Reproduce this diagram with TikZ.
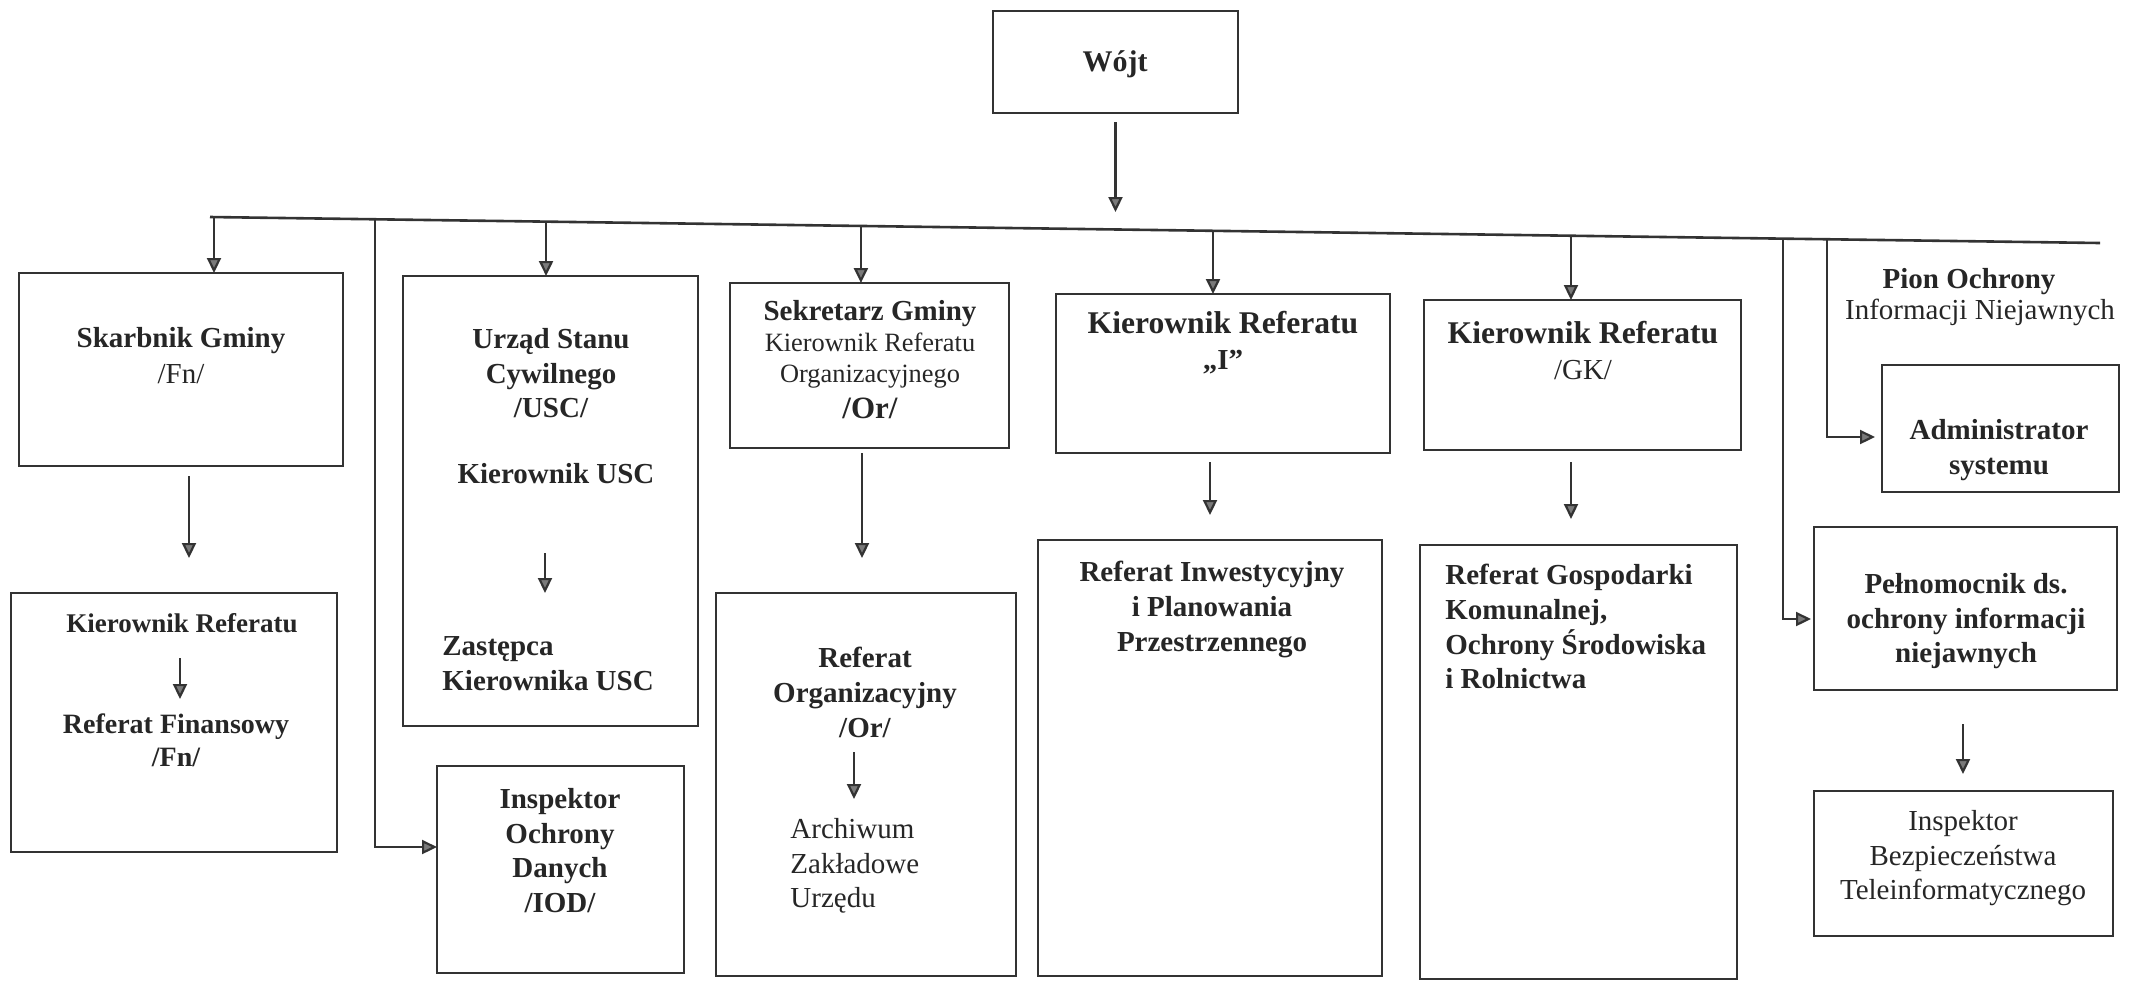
\documentclass[tikz,border=0pt]{standalone}
\usepackage{fontspec}
\setmainfont{Liberation Serif}
\usetikzlibrary{arrows.meta,calc}
\definecolor{ink}{HTML}{262626}
\definecolor{linec}{HTML}{333333}
\definecolor{arrowc}{HTML}{7A7A7A}
\begin{document}
\begin{tikzpicture}[x=0.5pt,y=-0.5pt,
  box/.style={draw=linec, line width=1.3pt, inner sep=0pt, outer sep=0pt, anchor=north west},
  lnk/.style={draw=linec, line width=1.1pt},
  arr/.style={lnk, -{Triangle[length=7.5pt,width=7pt,fill=arrowc]}},
  txtb/.style={inner sep=0pt, text=ink, font=\fontsize{14.5}{17.3}\selectfont\bfseries, align=center},
  txtr/.style={inner sep=0pt, text=ink, font=\fontsize{14.5}{17.3}\selectfont, align=center},
  bigb/.style={font=\fontsize{15.8}{19}\selectfont\bfseries},
  smallr/.style={font=\fontsize{13.2}{16}\selectfont},
]
\useasboundingbox (0,0) rectangle (2141,982);

% boxes
\node[box, minimum width=122.5pt, minimum height=51pt]   (W) at (993,11) {};
\node[box, minimum width=162pt,   minimum height=96.5pt] (S) at (19,273) {};
\node[box, minimum width=163pt,   minimum height=129.5pt](F) at (11,593) {};
\node[box, minimum width=147.5pt, minimum height=225pt]  (U) at (403,276) {};
\node[box, minimum width=123.5pt, minimum height=103.5pt](D) at (437,766) {};
\node[box, minimum width=139.5pt, minimum height=82.5pt] (K) at (730,283) {};
\node[box, minimum width=150pt,   minimum height=191.5pt](O) at (716,593) {};
\node[box, minimum width=167pt,   minimum height=79.5pt] (I) at (1056,294) {};
\node[box, minimum width=172pt,   minimum height=218pt]  (P) at (1038,540) {};
\node[box, minimum width=158.5pt, minimum height=75pt]   (G) at (1424,300) {};
\node[box, minimum width=158.5pt, minimum height=217pt]  (R) at (1420,545) {};
\node[box, minimum width=118.5pt, minimum height=63.5pt] (A) at (1882,365) {};
\node[box, minimum width=151.5pt, minimum height=81.5pt] (N) at (1814,527) {};
\node[box, minimum width=149.5pt, minimum height=72.5pt] (T) at (1814,791) {};

% texts
\node[txtb, font=\fontsize{15}{18}\selectfont\bfseries, anchor=base] (tW) at (1115,71) {Wójt};
\node[txtb, anchor=base] (tS1) at (181,347) {Skarbnik Gminy};
\node[txtr, anchor=base] (tS2) at (181,383) {/Fn/};
\node[txtb, font=\fontsize{13.5}{16}\selectfont\bfseries, anchor=base] (tF1) at (182,632) {Kierownik Referatu};
\node[txtb, font=\fontsize{14}{16.5}\selectfont\bfseries, anchor=north] (tF2) at (176,713) {Referat Finansowy\\/Fn/};
\node[txtb, anchor=north] (tU1) at (551,328) {Urząd Stanu\\Cywilnego\\/USC/};
\node[txtb, anchor=base] (tU2) at (556,483) {Kierownik USC};
\node[txtb, align=left, anchor=north west] (tU3) at (442,636) {Zastępca\\Kierownika USC};
\node[txtb, anchor=north] (tD) at (560,788) {Inspektor\\Ochrony\\Danych\\/IOD/};
\node[txtb, anchor=base] (tK1) at (870,320) {Sekretarz Gminy};
\node[txtr, smallr, anchor=base] (tK2) at (870,351) {Kierownik Referatu};
\node[txtr, smallr, anchor=base] (tK3) at (870,382) {Organizacyjnego};
\node[txtb, font=\fontsize{15.5}{18}\selectfont\bfseries, anchor=base] (tK4) at (870,418) {/Or/};
\node[txtb, anchor=north] (tO1) at (865,647) {Referat\\Organizacyjny\\/Or/};
\node[txtr, align=left, anchor=north west] (tO2) at (790,818) {Archiwum\\Zakładowe\\Urzędu};
\node[txtb, bigb, anchor=base] (tI1) at (1223,333) {Kierownik Referatu};
\node[txtb, anchor=base] (tI2) at (1223,369) {„I”};
\node[txtb, anchor=north] (tP) at (1212,561) {Referat Inwestycyjny\\i Planowania\\Przestrzennego};
\node[txtb, bigb, anchor=base] (tG1) at (1583,343) {Kierownik Referatu};
\node[txtr, anchor=base] (tG2) at (1583,379) {/GK/};
\node[txtb, align=left, anchor=north west] (tR) at (1445,564) {Referat Gospodarki\\Komunalnej,\\Ochrony Środowiska\\i Rolnictwa};
\node[txtb, anchor=base] (tPion1) at (1969,288) {Pion Ochrony};
\node[txtr, anchor=base] (tPion2) at (1980,319) {Informacji Niejawnych};
\node[txtb, anchor=north] (tA) at (1999,419) {Administrator\\systemu};
\node[txtb, anchor=north] (tN) at (1966,573) {Pełnomocnik ds.\\ochrony informacji\\niejawnych};
\node[txtr, anchor=north] (tT) at (1963,810) {Inspektor\\Bezpieczeństwa\\Teleinformatycznego};

% bus line
\coordinate (busL) at (210,217);
\coordinate (busR) at (2100,243);
\draw[lnk, line width=1.3pt] (busL) -- (busR);
\coordinate (bS) at ($(busL)!0.00212!(busR)$);
\coordinate (bD) at ($(busL)!0.0873!(busR)$);
\coordinate (bU) at ($(busL)!0.1778!(busR)$);
\coordinate (bK) at ($(busL)!0.3444!(busR)$);
\coordinate (bI) at ($(busL)!0.5307!(busR)$);
\coordinate (bG) at ($(busL)!0.7201!(busR)$);
\coordinate (bN) at ($(busL)!0.8323!(busR)$);
\coordinate (bA) at ($(busL)!0.8556!(busR)$);

% connectors
\draw[arr] ($(W.south)+(0,9)$) -- ($(W.south)+(0,99)$);
\draw[arr] (bS) -- (bS |- S.north);
\draw[arr] (bD) |- ($(D.north west)+(0,81)$);
\draw[arr] (bU) -- (bU |- U.north);
\draw[arr] (bK) -- (bK |- K.north);
\draw[arr] (bI) -- (bI |- I.north);
\draw[arr] (bG) -- (bG |- G.north);
\draw[arr] (bN) |- ($(N.north west)+(-3,92)$);
\draw[arr] (bA) |- ($(A.north west)+(-7,72)$);

\draw[arr] ($(S.south west)+(170,10)$) -- ($(F.north west)+(178,-35)$);
\draw[arr] ($(F.north west)+(169,65)$) -- ($(F.north west)+(169,106)$);
\draw[arr] ($(U.north west)+(142,277)$) -- ($(U.north west)+(142,317)$);
\draw[arr] ($(K.south west)+(132,5)$) -- ($(O.north west)+(146,-35)$);
\draw[arr] ($(O.north west)+(138,159)$) -- ($(O.north west)+(138,206)$);
\draw[arr] ($(I.south west)+(154,9)$) -- ($(P.north west)+(172,-25)$);
\draw[arr] ($(G.south west)+(147,12)$) -- ($(R.north west)+(151,-26)$);
\draw[arr] ($(N.south west)+(149,34)$) -- ($(T.north west)+(149,-17)$);
\end{tikzpicture}
\end{document}
